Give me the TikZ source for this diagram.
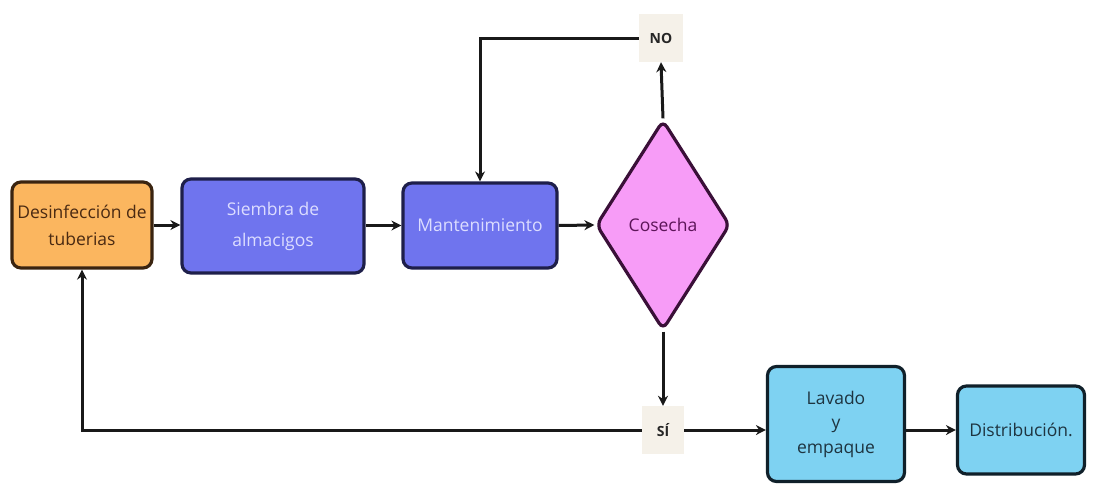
\documentclass[tikz,border=0pt]{standalone}
\usepackage{fontspec}
\setmainfont{Open Sans}
\usetikzlibrary{shapes.geometric,arrows.meta}
\definecolor{orfill}{HTML}{FBB65F}
\definecolor{ordraw}{HTML}{3A2410}
\definecolor{ortext}{HTML}{4A2A12}
\definecolor{bpfill}{HTML}{6F74EE}
\definecolor{bpdraw}{HTML}{1E1F4A}
\definecolor{bptext}{HTML}{DCDDFF}
\definecolor{pkfill}{HTML}{F79CF7}
\definecolor{pkdraw}{HTML}{3A1038}
\definecolor{pktext}{HTML}{5C1458}
\definecolor{lbfill}{HTML}{7ED2F2}
\definecolor{lbdraw}{HTML}{10202A}
\definecolor{lbtext}{HTML}{1E3440}
\definecolor{tagfill}{HTML}{F5F1E9}
\begin{document}
\begin{tikzpicture}[x=1pt,y=-1pt,
  box/.style={draw, line width=3.2pt, rounded corners=9pt, align=center, inner sep=0pt,
    font=\fontsize{17.5}{27}\selectfont},
  tag/.style={fill=tagfill, inner sep=0pt, font=\bfseries\fontsize{14}{15}\selectfont, text=black!85},
  conn/.style={line width=3pt, draw=black!90, -{Stealth[length=10pt,width=10pt]}}
]
\useasboundingbox (0,0) rectangle (1093,488);
\fill[white] (0,0) rectangle (1093,488);

\node[box, fill=orfill, draw=ordraw, text=ortext, minimum width=140pt, minimum height=86pt] (desinf) at (82,225) {Desinfección de\\tuberias};
\node[box, fill=bpfill, draw=bpdraw, text=bptext, minimum width=182pt, minimum height=94pt, font=\fontsize{17.5}{31}\selectfont] (siembra) at (273,226) {Siembra de\\almacigos};
\node[box, fill=bpfill, draw=bpdraw, text=bptext, minimum width=154pt, minimum height=85pt] (mant) at (480,225.5) {Mantenimiento};
\node[diamond, draw=pkdraw, fill=pkfill, line width=3.2pt, rounded corners=7pt, inner sep=0pt, minimum width=134pt, minimum height=210pt, text=pktext, font=\fontsize{17.5}{20}\selectfont] (cosecha) at (663,225) {Cosecha};
\node[tag, minimum width=44pt, minimum height=48pt] (no) at (661,38) {NO};
\node[tag, minimum width=42pt, minimum height=48pt] (si) at (663,430) {SÍ};
\node[box, fill=lbfill, draw=lbdraw, text=lbtext, minimum width=137pt, minimum height=115pt, font=\fontsize{17.5}{24.5}\selectfont] (lavado) at (836,424) {Lavado\\y\\empaque};
\node[box, fill=lbfill, draw=lbdraw, text=lbtext, minimum width=127pt, minimum height=88pt] (dist) at (1021,430) {Distribución.};

\draw[conn] (desinf.east) -- (siembra.west |- desinf.east);
\draw[conn] (siembra.east |- mant.west) -- (mant.west);
\draw[conn] (mant.east) -- (cosecha.west);
\draw[conn] (cosecha.north) -- (no.south);
\draw[conn] (no.west) -| (mant.north);
\draw[conn] (cosecha.south) -- (si.north);
\draw[conn] (si.west) -| (desinf.south);
\draw[conn] (si.east) -- (si.east -| lavado.west);
\draw[conn] (lavado.east |- dist.west) -- (dist.west);
\end{tikzpicture}
\end{document}
